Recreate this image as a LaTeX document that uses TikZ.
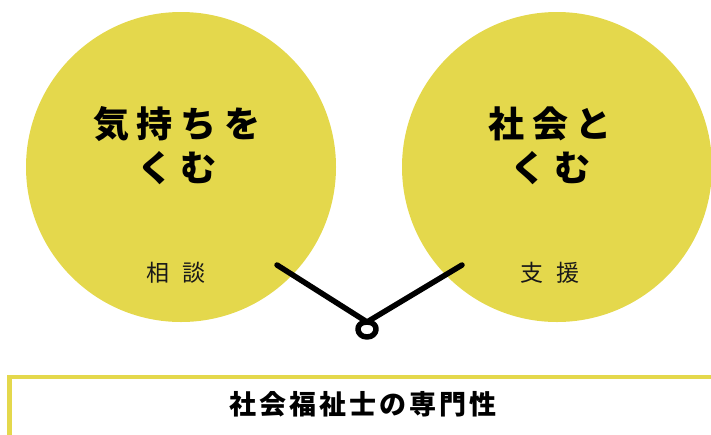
\documentclass[tikz,border=0pt]{standalone}
\usepackage{fontspec}
\newfontfamily\jp{Noto Sans CJK JP}
\definecolor{cyellow}{RGB}{228,216,76}
\newcommand{\gapA}{\hspace{8pt}}
\newcommand{\gapB}{\hspace{13pt}}
\newcommand{\gapC}{\hspace{3pt}}
\tikzset{
  bubble/.style={circle, fill=cyellow, draw=none, minimum size=310pt, inner sep=0pt},
  headtext/.style={font=\jp\bfseries\fontsize{36}{44}\selectfont, align=center, text=black, inner sep=0pt},
  subtext/.style={font=\jp\fontsize{23}{28}\selectfont, text=black!90, inner sep=0pt},
  titletext/.style={font=\jp\bfseries\fontsize{27}{30}\selectfont, text=black, inner sep=0pt},
  tie/.style={line width=5.5pt, line cap=round, line join=round, black},
  frameline/.style={line width=4.5pt, cyellow}
}
\begin{document}
\begin{tikzpicture}[x=1pt,y=-1pt]
\useasboundingbox (0,0) rectangle (711,434);
\node[bubble] (lc) at (181,167) {};
\node[bubble] (rc) at (557,167) {};
\node[headtext] (lh) at (177,146) {気\gapA 持\gapA ち\gapA を\\く\gapA む};
\node[headtext] (rh) at (550,146) {社\gapA 会\gapA と\\く\gapA む};
\node[subtext] (ls) at (176,273) {相\gapB 談};
\node[subtext] (rs) at (550,273) {支\gapB 援};
\coordinate (la) at (277,265);
\coordinate (ra) at (462,265);
\coordinate (knot) at (367,322);
\draw[tie] (la) -- (knot) -- (ra);
\draw[tie] (knot) .. controls (380,322) and (378,337) .. (367,337) .. controls (356,337) and (354,322) .. (knot);
\coordinate (fb) at (9.5,440);
\coordinate (fc) at (9.5,377);
\coordinate (fr) at (715,377);
\draw[frameline] (fb) -- (fc) -- (fr);
\node[titletext] (title) at (363,404) {社\gapC 会\gapC 福\gapC 祉\gapC 士\gapC の\gapC 専\gapC 門\gapC 性};
\end{tikzpicture}
\end{document}
